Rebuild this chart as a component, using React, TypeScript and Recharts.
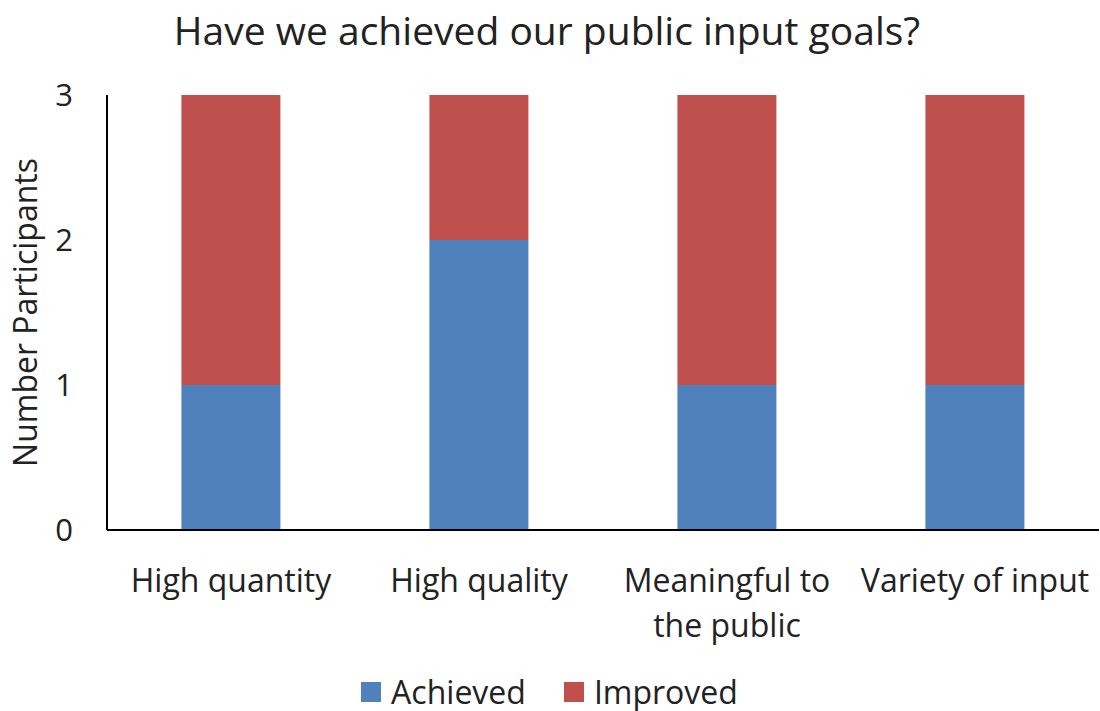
import { BarChart, Bar, XAxis, YAxis, Legend } from "recharts";

const categories = ["High quantity", "High quality", "Meaningful to the public", "Variety of input"];
const achieved = [1, 2, 1, 1];
const improved = [2, 1, 2, 2];
const yTicks = [0, 1, 2, 3];

const data = categories.map((name, i) => ({
  name,
  achieved: achieved[i],
  improved: improved[i],
}));

const FONT = "'Open Sans', 'Noto Sans', sans-serif";
const TEXT = "#222";

// greedy word wrap, max characters per line
const wrap = (label: string, max = 16) => {
  const lines: string[] = [];
  let cur = "";
  label.split(" ").forEach((w) => {
    const next = cur ? cur + " " + w : w;
    if (next.length > max && cur) {
      lines.push(cur);
      cur = w;
    } else {
      cur = next;
    }
  });
  if (cur) lines.push(cur);
  return lines;
};

const CategoryTick = (props: any) => {
  const { x, y, payload } = props;
  return (
    <text x={x} y={y} textAnchor="middle" fontSize={32} fontFamily={FONT} fill={TEXT}>
      {wrap(payload.value).map((line, i) => (
        <tspan key={i} x={x} dy={i === 0 ? 62 : 45}>
          {line}
        </tspan>
      ))}
    </text>
  );
};

const renderLegend = (props: any) => {
  const { payload } = props;
  return (
    <div style={{ display: "flex", justifyContent: "center", paddingTop: 20, fontFamily: FONT, fontSize: 32, color: TEXT }}>
      {payload.map((entry: any, i: number) => (
        <div key={i} style={{ display: "flex", alignItems: "center", marginRight: i === 0 ? 38 : 0 }}>
          <span style={{ display: "inline-block", width: 20, height: 20, background: entry.color, marginRight: 10 }} />
          <span>{entry.value}</span>
        </div>
      ))}
    </div>
  );
};

export default function App() {
  return (
    <div style={{ position: "absolute", left: 0, top: 0, width: 1100, height: 711, background: "#fff" }}>
      <div
        style={{
          position: "absolute",
          top: 3,
          left: 0,
          width: 1094,
          textAlign: "center",
          fontFamily: FONT,
          fontSize: 39,
          color: TEXT,
        }}
      >
        Have we achieved our public input goals?
      </div>
      <BarChart
        width={1100}
        height={711}
        data={data}
        margin={{ top: 95, right: 1, left: 0, bottom: 0 }}
        barCategoryGap="30%"
      >
        <XAxis
          dataKey="name"
          axisLine={{ stroke: "#000", strokeWidth: 2 }}
          tickLine={false}
          tickSize={0}
          tickMargin={0}
          height={120}
          interval={0}
          tick={<CategoryTick />}
        />
        <YAxis
          domain={[0, 3]}
          ticks={yTicks}
          axisLine={{ stroke: "#000", strokeWidth: 2 }}
          tickLine={false}
          tickSize={0}
          tickMargin={34}
          width={107}
          tick={{ fontSize: 31, fontFamily: FONT, fill: TEXT }}
          label={{
            value: "Number Participants",
            angle: -90,
            position: "insideLeft",
            offset: 26,
            style: { fontSize: 32, fontFamily: FONT, fill: TEXT, textAnchor: "middle" },
          }}
        />
        <Legend verticalAlign="bottom" height={61} content={renderLegend} />
        <Bar dataKey="achieved" name="Achieved" stackId="a" fill="#4F81BD" isAnimationActive={false} />
        <Bar dataKey="improved" name="Improved" stackId="a" fill="#C0504D" isAnimationActive={false} />
      </BarChart>
    </div>
  );
}
